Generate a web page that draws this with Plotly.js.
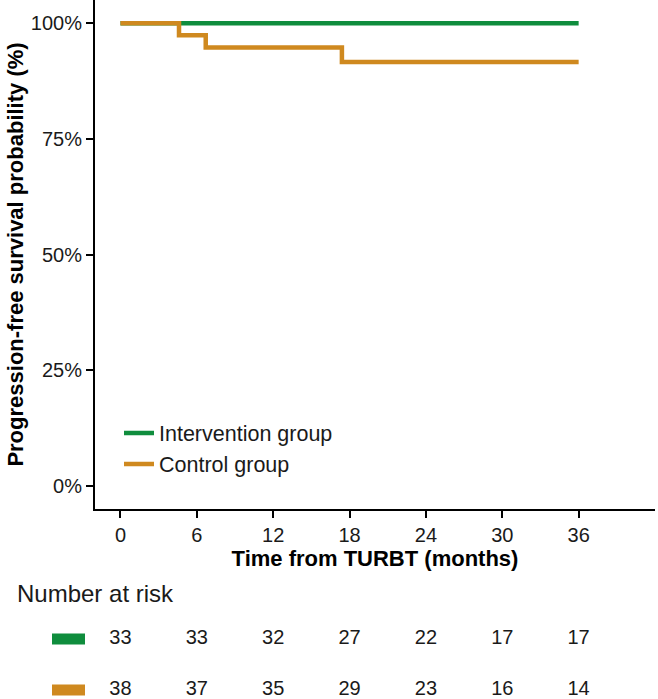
<!DOCTYPE html>
<html>
<head>
<meta charset="utf-8">
<script src="https://cdn.plot.ly/plotly-3.0.1.min.js"></script>
<style>html,body{margin:0;padding:0;background:#fff;}#chart{width:658px;height:699px;}</style>
</head>
<body>
<div id="chart"></div>
<script>
// ---- data ----
const groupNames = ["Intervention group", "Control group"];
const interventionTime = [0, 36];
const interventionSurv = [1.0, 1.0];
const controlTime = [0, 4.6, 6.7, 17.4, 36];
const controlSurv = [1.0, 0.9737, 0.9474, 0.9158, 0.9158];
const xTickVals = [0, 6, 12, 18, 24, 30, 36];
const yTickVals = [0, 0.25, 0.5, 0.75, 1];
const yTickText = ["0%", "25%", "50%", "75%", "100%"];
const riskTimes = [0, 6, 12, 18, 24, 30, 36];
const riskIntervention = [33, 33, 32, 27, 22, 17, 17];
const riskControl = [38, 37, 35, 29, 23, 16, 14];

// ---- style ----
const colors = ["#0F8D3D", "#CF891F"];
const FONT = "Liberation Sans, Arial, sans-serif";
const H = 699;

const traces = [
  {x: interventionTime, y: interventionSurv, type: "scatter", mode: "lines",
   line: {shape: "hv", color: colors[0], width: 4.5}, name: groupNames[0],
   xaxis: "x", yaxis: "y"},
  {x: controlTime, y: controlSurv, type: "scatter", mode: "lines",
   line: {shape: "hv", color: colors[1], width: 4.5}, name: groupNames[1],
   xaxis: "x", yaxis: "y"},
  {x: riskTimes, y: riskTimes.map(() => 1), text: riskIntervention.map(String),
   type: "scatter", mode: "text", textfont: {family: FONT, size: 20, color: "#1a1a1a"},
   textposition: "middle center", showlegend: false, hoverinfo: "skip",
   xaxis: "x2", yaxis: "y2"},
  {x: riskTimes, y: riskTimes.map(() => 0), text: riskControl.map(String),
   type: "scatter", mode: "text", textfont: {family: FONT, size: 20, color: "#1a1a1a"},
   textposition: "middle center", showlegend: false, hoverinfo: "skip",
   xaxis: "x2", yaxis: "y2"}
];

const layout = {
  width: 658, height: 699,
  margin: {l: 95, r: 3, t: 0, b: 0},
  paper_bgcolor: "#fff", plot_bgcolor: "#fff",
  font: {family: FONT, color: "#1a1a1a", size: 20},
  showlegend: true,
  legend: {x: (119 - 95) / 560, xanchor: "left", y: 1 - 412.5 / H, yanchor: "top",
           font: {family: FONT, size: 21.5, color: "#1a1a1a"}, bgcolor: "rgba(0,0,0,0)",
           itemwidth: 30, tracegroupgap: 0},
  xaxis: {domain: [0, 1], range: [-2, 42], anchor: "y", tickvals: xTickVals,
          showgrid: false, zeroline: false, showline: true, linecolor: "#000", linewidth: 2,
          ticks: "outside", ticklen: 7, tickwidth: 2, tickcolor: "#000",
          tickfont: {family: FONT, size: 20, color: "#1a1a1a"},
          title: {text: "<b>Time from TURBT (months)</b>", standoff: 4,
                  font: {family: FONT, size: 22, color: "#000"}}},
  yaxis: {domain: [1 - 509 / H, 1], range: [-0.05, 1.05], anchor: "x",
          tickvals: yTickVals, ticktext: yTickText,
          showgrid: false, zeroline: false, showline: true, linecolor: "#000", linewidth: 2,
          ticks: "outside", ticklen: 7, tickwidth: 2, tickcolor: "#000",
          tickfont: {family: FONT, size: 20, color: "#1a1a1a"},
          title: {text: "<b>Progression-free survival probability (%)</b>", standoff: 1,
                  font: {family: FONT, size: 22, color: "#000"}}},
  xaxis2: {domain: [0, 1], range: [-2, 42], anchor: "y2", visible: false, fixedrange: true},
  yaxis2: {domain: [0, 0.1], range: [-9 / 51, -9 / 51 + 69.9 / 51], anchor: "x2",
           visible: false, fixedrange: true},
  annotations: [
    {text: "Number at risk", xref: "paper", yref: "paper", x: -80 / 560, y: 1 - 593 / H,
     xanchor: "left", yanchor: "middle", showarrow: false,
     font: {family: FONT, size: 24, color: "#1a1a1a"}}
  ],
  shapes: [
    {type: "rect", xref: "paper", yref: "y2", x0: -43 / 560, x1: -10 / 560,
     y0: 0.89, y1: 1.11, fillcolor: colors[0], line: {width: 0}},
    {type: "rect", xref: "paper", yref: "y2", x0: -43 / 560, x1: -10 / 560,
     y0: -0.11, y1: 0.11, fillcolor: colors[1], line: {width: 0}}
  ]
};

Plotly.newPlot("chart", traces, layout, {displayModeBar: false, staticPlot: true});
</script>
</body>
</html>
